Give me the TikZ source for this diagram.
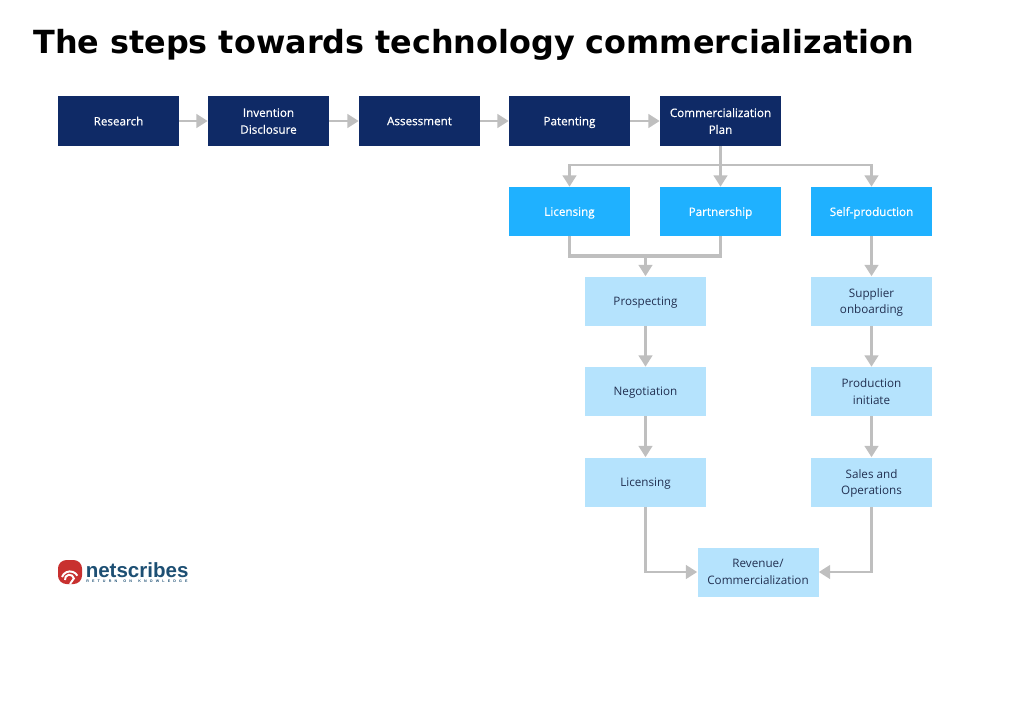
\documentclass[tikz,border=0pt]{standalone}
\usepackage{fontspec}
\setmainfont{Open Sans}
\newfontfamily\titlefont{DejaVu Sans}
\newfontfamily\boxfont[FakeBold=0.5]{Open Sans}
\newfontfamily\logofont{Liberation Sans}
\usetikzlibrary{arrows.meta}
\definecolor{stepNavy}{HTML}{0F2A66}
\definecolor{stepBlue}{HTML}{1FB1FF}
\definecolor{stepPale}{HTML}{B5E3FD}
\definecolor{flowGray}{HTML}{BFBFBF}
\definecolor{logoRed}{HTML}{C8302F}
\definecolor{logoBlue}{HTML}{1D4F73}
\tikzset{
  stepbox/.style={minimum width=121*0.711pt, minimum height=49*0.711pt, inner sep=0pt, align=center, text depth=-1.4pt, font=\fontsize{8.3}{12}\selectfont},
  navybox/.style={stepbox, minimum height=50*0.711pt, fill=stepNavy, text=white, font=\boxfont\fontsize{8.3}{12}\selectfont},
  bluebox/.style={stepbox, fill=stepBlue, text=white, font=\boxfont\fontsize{8.3}{12}\selectfont},
  palebox/.style={stepbox, fill=stepPale, text=stepNavy!60!black!90},
  flow/.style={flowGray, line width=2.1pt, -{Triangle[width=9.5pt, length=8pt]}},
  flowline/.style={flowGray, line width=2.1pt}
}
\begin{document}
\begin{tikzpicture}[x=0.025cm, y=-0.025cm]
  \useasboundingbox (0,0) rectangle (1024,711);
  \node[anchor=west, inner sep=0pt, font=\titlefont\bfseries\fontsize{22.65}{28}\selectfont] (title) at (33,45) {The steps towards technology commercialization};
  % top row
  \node[navybox] (research) at (118.5,121) {Research};
  \node[navybox] (invention) at (268.5,121) {Invention\\Disclosure};
  \node[navybox] (assessment) at (419.5,121) {Assessment};
  \node[navybox] (patenting) at (569.5,121) {Patenting};
  \node[navybox] (plan) at (720.5,121) {Commercialization\\Plan};
  % options
  \node[bluebox] (licensing) at (569.5,211.5) {Licensing};
  \node[bluebox] (partnership) at (720.5,211.5) {Partnership};
  \node[bluebox] (selfprod) at (871.5,211.5) {Self-production};
  % left column
  \node[palebox] (prospecting) at (645.5,301) {Prospecting};
  \node[palebox] (negotiation) at (645.5,391.5) {Negotiation};
  \node[palebox] (licdeal) at (645.5,482) {Licensing};
  % right column
  \node[palebox] (supplier) at (871.5,301) {Supplier\\onboarding};
  \node[palebox] (production) at (871.5,391.5) {Production\\initiate};
  \node[palebox] (sales) at (871.5,482) {Sales and\\Operations};
  \node[palebox] (revenue) at (758,572) {Revenue/\\Commercialization};
  \coordinate (split) at (720.5,165);
  \coordinate (merge) at (645.5,256);
  \draw[flow] (research) -- (invention);
  \draw[flow] (invention) -- (assessment);
  \draw[flow] (assessment) -- (patenting);
  \draw[flow] (patenting) -- (plan);
  \draw[flow] (plan) -- (partnership);
  \draw[flow] (split) -| (licensing.north);
  \draw[flow] (split) -| (selfprod.north);
  \draw[flowline, line width=2.6pt] (licensing.south) |- (merge);
  \draw[flowline, line width=2.6pt] (partnership.south) |- (merge);
  \draw[flow] (merge) -- (prospecting);
  \draw[flow] (prospecting) -- (negotiation);
  \draw[flow] (negotiation) -- (licdeal);
  \draw[flow] (selfprod) -- (supplier);
  \draw[flow] (supplier) -- (production);
  \draw[flow] (production) -- (sales);
  \draw[flow] (licdeal.south) |- (revenue.west);
  \draw[flow] (sales.south) |- (revenue.east);
  % logo
  \fill[logoRed, rounded corners=6pt] (58,560) rectangle (82,584);
  \draw[white, line width=1.4pt] (62,577) arc[start angle=200, end angle=330, radius=8.5];
  \draw[white, line width=1.4pt] (65,580) arc[start angle=170, end angle=350, radius=4.5] -- (70,584);
  \node[anchor=west, inner sep=0pt, text=logoBlue, font=\logofont\bfseries\fontsize{14.6}{18}\selectfont] (logo) at (85.5,570) {netscribes};
  \node[anchor=west, inner sep=0pt, text=logoBlue, font=\logofont\bfseries\fontsize{2.6}{3}\selectfont] (tagline) at (86,581.5) {\makebox[72pt][s]{R E T U R N \ O N \ K N O W L E D G E}};
\end{tikzpicture}
\end{document}
